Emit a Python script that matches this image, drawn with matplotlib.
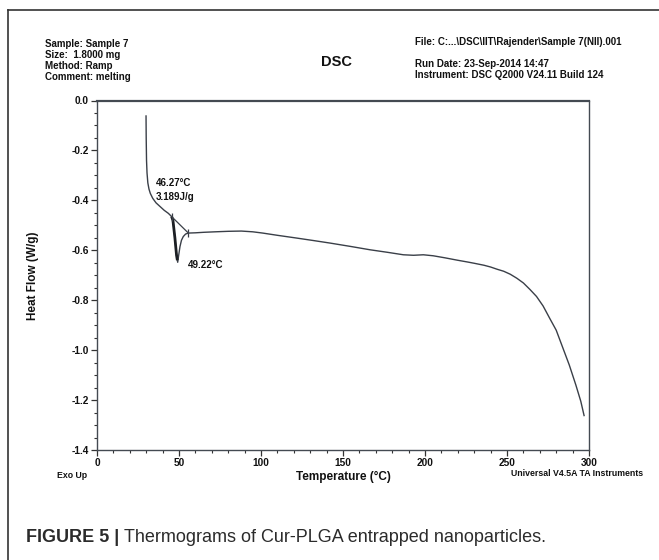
import matplotlib
matplotlib.use("Agg")
import matplotlib.pyplot as plt
from matplotlib.lines import Line2D
from matplotlib.ticker import MultipleLocator, FormatStrFormatter

plt.rcParams['font.family'] = ['Liberation Sans', 'DejaVu Sans']
plt.rcParams['axes.unicode_minus'] = False

# ---- data ----
temperature = [29.9, 30.0, 30.2, 30.5, 31.0, 31.7, 32.5, 34.0, 36.0, 38.5, 41.0, 43.5, 45.5,
               46.3, 47.5, 48.5, 49.2, 49.8, 50.6, 51.5, 52.6, 54.0, 55.7,
               60.0, 65.0, 72.0, 80.0, 88.0, 95.0, 101.0, 110.0, 121.7, 132.0, 142.0,
               155.0, 166.5, 177.0, 186.8, 193.0, 199.0, 205.0, 212.0, 220.0, 226.0,
               230.0, 236.0, 240.0, 244.0, 248.0, 252.0, 256.0, 260.0, 264.0, 268.0,
               272.0, 276.0, 280.0, 284.0, 288.0, 292.0, 295.0, 297.0]
heat_flow = [-0.062, -0.15, -0.24, -0.29, -0.33, -0.355, -0.372, -0.392, -0.41, -0.425, -0.44, -0.452, -0.465,
             -0.480, -0.550, -0.620, -0.648, -0.620, -0.585, -0.560, -0.545, -0.535, -0.531,
             -0.530, -0.528, -0.526, -0.524, -0.523, -0.526, -0.531, -0.540, -0.551, -0.561, -0.571,
             -0.585, -0.598, -0.608, -0.618, -0.620, -0.618, -0.622, -0.630, -0.640, -0.647,
             -0.652, -0.660, -0.667, -0.676, -0.684, -0.696, -0.712, -0.731, -0.757, -0.785,
             -0.823, -0.872, -0.920, -0.990, -1.060, -1.140, -1.205, -1.262]
onset_seg_t = [45.5, 46.3, 47.5, 48.5, 49.0]
onset_seg_h = [-0.465, -0.480, -0.550, -0.620, -0.640]
baseline_t = [45.5, 55.7]
baseline_h = [-0.465, -0.531]
xticks = [0, 50, 100, 150, 200, 250, 300]
yticks = [0.0, -0.2, -0.4, -0.6, -0.8, -1.0, -1.2, -1.4]

W, H = 659, 560
fig = plt.figure(figsize=(W / 100, H / 100), dpi=100)
fig.patch.set_facecolor('white')

def fx(px):
    return px / W

def fy(py):
    return 1 - py / H

ax = fig.add_axes([fx(97), fy(450), fx(589) - fx(97), fy(100.5) - fy(450)])
ax.plot(temperature, heat_flow, color='#3a3f48', lw=1.0)
ax.plot(onset_seg_t, onset_seg_h, color='#1c1f24', lw=2.0, solid_capstyle='butt')
ax.plot(baseline_t, baseline_h, color='#3a3f48', lw=0.9, marker='|', ms=6, mew=0.9)

ax.set_xlim(0, 300)
ax.set_ylim(-1.4, 0.0)
ax.set_xticks(xticks)
ax.set_yticks(yticks)
ax.xaxis.set_minor_locator(MultipleLocator(10))
ax.yaxis.set_minor_locator(MultipleLocator(0.05))
ax.yaxis.set_major_formatter(FormatStrFormatter('%.1f'))
ax.tick_params(which='major', direction='out', length=4, width=0.9, colors='#333333',
               labelsize=7.3, pad=2)
ax.tick_params(which='minor', direction='out', length=2, width=0.8, colors='#333333')
for lab in ax.get_xticklabels() + ax.get_yticklabels():
    lab.set_fontweight('bold')
    lab.set_color('#111111')
for s in ax.spines.values():
    s.set_color('#444a52')
    s.set_linewidth(1.0)
ax.spines['top'].set_linewidth(1.6)

ax.set_xlabel('Temperature (°C)', fontsize=8.5, fontweight='bold', color='#111111', labelpad=2)
ax.set_ylabel('Heat Flow (W/g)', fontsize=8.5, fontweight='bold', color='#111111', labelpad=23)

# annotations
ax.text(36.0, -0.330, '46.27°C', fontsize=7, fontweight='bold', color='#111111',
        va='center', ha='left')
ax.text(36.0, -0.386, '3.189J/g', fontsize=7, fontweight='bold', color='#111111',
        va='center', ha='left')
ax.text(55.5, -0.658, '49.22°C', fontsize=7, fontweight='bold', color='#111111',
        va='center', ha='left')

# header texts
tk = dict(fontsize=7, fontweight='bold', color='#111111', va='center')
for i, t in enumerate(['Sample: Sample 7', 'Size:  1.8000 mg', 'Method: Ramp', 'Comment: melting']):
    fig.text(fx(45), fy(44 + 11 * i), t, ha='left', **tk)
fig.text(fx(337), fy(62), 'DSC', ha='center', va='center', fontsize=10.5,
         fontweight='bold', color='#111111')
fig.text(fx(415), fy(42), 'File: C:...\\DSC\\IIT\\Rajender\\Sample 7(NII).001', ha='left', **tk)
fig.text(fx(415), fy(64), 'Run Date: 23-Sep-2014 14:47', ha='left', **tk)
fig.text(fx(415), fy(75), 'Instrument: DSC Q2000 V24.11 Build 124', ha='left', **tk)
fig.text(fx(57), fy(475), 'Exo Up', ha='left', fontsize=6.3, fontweight='bold', color='#111111', va='center')
fig.text(fx(643), fy(473), 'Universal V4.5A TA Instruments', ha='right', fontsize=6.3,
         fontweight='bold', color='#111111', va='center')

# caption
fig.text(fx(26), fy(538), 'FIGURE 5 |', ha='left', va='center', fontsize=13,
         fontweight='bold', color='#2b2b2b')
fig.text(fx(124), fy(538), 'Thermograms of Cur-PLGA entrapped nanoparticles.',
         ha='left', va='center', fontsize=13, color='#2b2b2b')

# outer frame
fig.add_artist(Line2D([fx(8), fx(8)], [fy(10), 0], color='#333333', lw=1.2))
fig.add_artist(Line2D([fx(8), 1], [fy(10), fy(10)], color='#333333', lw=1.2))

fig.savefig('out.png', dpi=100)
